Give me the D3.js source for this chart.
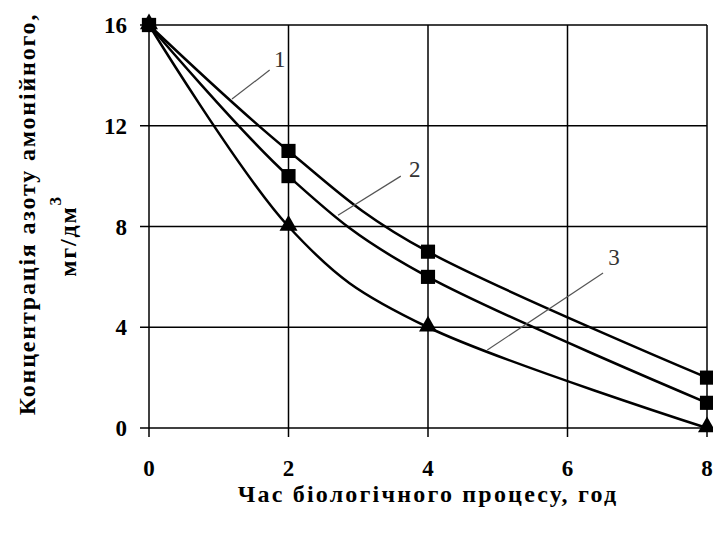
<!DOCTYPE html>
<html>
<head>
<meta charset="utf-8">
<script src="https://cdn.jsdelivr.net/npm/d3@7"></script>
<style>
  body { margin: 0; background: #fff; }
  svg text { font-family: "Liberation Serif", "Times New Roman", serif; fill: #000; }
</style>
</head>
<body>
<div id="chart"></div>
<script>
// дані з графіка
var hours = [0, 2, 4, 8];
var series1 = [16, 11, 7, 2];
var series2 = [16, 10, 6, 1];
var series3 = [16, 8, 4, 0];
var xTicks = [0, 2, 4, 6, 8];
var yTicks = [0, 4, 8, 12, 16];
var curveLabels = ["1", "2", "3"];
// точки на кривих, від яких іде виноска, і куди вона веде (в одиницях даних)
var leaderFrom = [[1.19, 13.06], [2.71, 8.45], [4.85, 3.1]];
var leaderTo = [[1.73, 14.21], [3.61, 10.0], [6.51, 6.15]];

var width = 713, height = 533;
var margin = {left: 149, top: 25, right: 6, bottom: 105};

var svg = d3.select("#chart").append("svg")
  .attr("width", width)
  .attr("height", height);

var x = d3.scaleLinear().domain([0, 8]).range([margin.left, width - margin.right]);
var y = d3.scaleLinear().domain([0, 16]).range([height - margin.bottom, margin.top]);

// сітка
svg.append("g")
  .selectAll("line")
  .data(xTicks)
  .enter().append("line")
  .attr("x1", d => x(d)).attr("x2", d => x(d))
  .attr("y1", y(16)).attr("y2", y(0) + 9)
  .attr("stroke", "#000").attr("stroke-width", 1.5);

svg.append("g")
  .selectAll("line")
  .data(yTicks)
  .enter().append("line")
  .attr("x1", x(0) - 9).attr("x2", x(8))
  .attr("y1", d => y(d)).attr("y2", d => y(d))
  .attr("stroke", "#000").attr("stroke-width", 1.5);

// підписи осей
svg.append("g")
  .selectAll("text")
  .data(yTicks)
  .enter().append("text")
  .attr("x", x(0) - 22)
  .attr("y", d => y(d) + 8)
  .attr("text-anchor", "end")
  .style("font-size", "23px")
  .style("font-weight", "bold")
  .text(d => d);

svg.append("g")
  .selectAll("text")
  .data(xTicks)
  .enter().append("text")
  .attr("x", d => x(d))
  .attr("y", y(0) + 48)
  .attr("text-anchor", "middle")
  .style("font-size", "23px")
  .style("font-weight", "bold")
  .text(d => d);

svg.append("text")
  .attr("x", 428)
  .attr("y", 502)
  .attr("text-anchor", "middle")
  .style("font-size", "24px")
  .style("font-weight", "bold")
  .style("letter-spacing", "2.2px")
  .text("Час біологічного процесу, год");

svg.append("text")
  .attr("transform", "translate(35,214) rotate(-90)")
  .attr("text-anchor", "middle")
  .style("font-size", "24px")
  .style("font-weight", "bold")
  .style("letter-spacing", "1.8px")
  .text("Концентрація азоту амонійного,");

var unit = svg.append("text")
  .attr("transform", "translate(76,236) rotate(-90)")
  .attr("text-anchor", "middle")
  .style("font-size", "24px")
  .style("font-weight", "bold")
  .style("letter-spacing", "1.8px");
unit.append("tspan").text("мг/дм");
unit.append("tspan").attr("dy", -15).style("font-size", "17px").text("3");

// криві
var line = d3.line()
  .x((d, i) => x(hours[i]))
  .y(d => y(d))
  .curve(d3.curveCardinal.tension(0));

var allSeries = [series1, series2, series3];
svg.append("g")
  .selectAll("path")
  .data(allSeries)
  .enter().append("path")
  .attr("d", line)
  .attr("fill", "none")
  .attr("stroke", "#000")
  .attr("stroke-width", 2.5);

// маркери: квадрати для 1 і 2, трикутники для 3
[series1, series2].forEach(function (s) {
  svg.append("g")
    .selectAll("path")
    .data(s)
    .enter().append("path")
    .attr("d", d3.symbol().type(d3.symbolSquare).size(200))
    .attr("transform", (d, i) => "translate(" + x(hours[i]) + "," + y(d) + ")")
    .attr("fill", "#000");
});
svg.append("g")
  .selectAll("path")
  .data(series3)
  .enter().append("path")
  .attr("d", d3.symbol().type(d3.symbolTriangle).size(140))
  .attr("transform", (d, i) => "translate(" + x(hours[i]) + "," + (y(d) - 1) + ")")
  .attr("fill", "#000");

// виноски з номерами кривих
svg.append("g")
  .selectAll("line")
  .data(curveLabels)
  .enter().append("line")
  .attr("x1", (d, i) => x(leaderFrom[i][0]))
  .attr("y1", (d, i) => y(leaderFrom[i][1]))
  .attr("x2", (d, i) => x(leaderTo[i][0]))
  .attr("y2", (d, i) => y(leaderTo[i][1]))
  .attr("stroke", "#555")
  .attr("stroke-width", 1.2);

var labelShift = [[10, -3], [14, 1], [11, -8]];
svg.append("g")
  .selectAll("text")
  .data(curveLabels)
  .enter().append("text")
  .attr("x", (d, i) => x(leaderTo[i][0]) + labelShift[i][0])
  .attr("y", (d, i) => y(leaderTo[i][1]) + labelShift[i][1])
  .attr("text-anchor", "middle")
  .style("font-size", "23px")
  .style("fill", "#333")
  .text(d => d);
</script>
</body>
</html>
